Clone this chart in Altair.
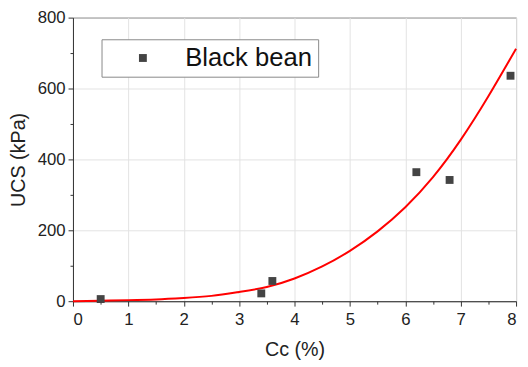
import altair as alt
import pandas as pd

# measured points (Black bean)
pts_x = [0.5, 3.4, 3.6, 6.2, 6.8, 7.9]
pts_y = [6, 22, 57, 364, 342, 636]

# fitted red curve
curve_x = [0, 0.5, 1, 1.5, 2, 2.5, 3, 3.5, 4, 4.5, 5, 5.5, 6, 6.5, 7, 7.5, 8]
curve_y = [0, 1.5, 3, 5, 9, 15, 26, 40, 64, 98, 142, 197, 265, 350, 455, 578, 712]

x_ticks = [0, 1, 2, 3, 4, 5, 6, 7, 8]
x_minor = [0.5, 1.5, 2.5, 3.5, 4.5, 5.5, 6.5, 7.5]
y_ticks = [0, 200, 400, 600, 800]
y_minor = [100, 300, 500, 700]

series_name = "Black bean"

pts = pd.DataFrame({"x": pts_x, "y": pts_y, "s": [series_name] * len(pts_x)})
curve = pd.DataFrame({"x": curve_x, "y": curve_y})

FONT = "Liberation Sans"
xscale = alt.Scale(domain=[0, 8], nice=False, zero=False)
yscale = alt.Scale(domain=[0, 800], nice=False)

x_axis = alt.Axis(values=x_ticks, title="Cc (%)", grid=True, gridColor="#e3e3e3",
                  tickSize=5, labelFontSize=17, titleFontSize=20, labelPadding=6,
                  titlePadding=12, domainColor="#333333", tickColor="#333333",
                  labelColor="#222222", titleColor="#222222", titleFontWeight="normal",
                  labelFont=FONT, titleFont=FONT)
y_axis = alt.Axis(values=y_ticks, title="UCS (kPa)", grid=True, gridColor="#e3e3e3",
                  tickSize=5, labelFontSize=17, titleFontSize=20, labelPadding=3,
                  titlePadding=9, domainColor="#333333", tickColor="#333333",
                  labelColor="#222222", titleColor="#222222", titleFontWeight="normal",
                  labelFont=FONT, titleFont=FONT, orient="left")

line = alt.Chart(curve).mark_line(color="#ff0000", strokeWidth=2, interpolate="natural").encode(
    x=alt.X("x:Q", scale=xscale, axis=x_axis),
    y=alt.Y("y:Q", scale=yscale, axis=y_axis),
)

points = alt.Chart(pts).mark_square(size=64, opacity=1).encode(
    x=alt.X("x:Q", scale=xscale, axis=None),
    y=alt.Y("y:Q", scale=yscale, axis=None),
    color=alt.Color("s:N", scale=alt.Scale(range=["#444444"]),
                    legend=alt.Legend(title=None, orient="none", legendX=29, legendY=22,
                                      labelFontSize=26, labelFont=FONT, labelColor="#111111",
                                      symbolType="square", symbolSize=64, symbolOffset=23,
                                      labelOffset=30, padding=6, strokeColor="#888888",
                                      fillColor="white", symbolStrokeWidth=0)),
)

minor_x = alt.Chart(pd.DataFrame({"x": x_minor})).mark_tick(opacity=0).encode(
    x=alt.X("x:Q", scale=xscale,
            axis=alt.Axis(values=x_minor, labels=False, title=None, grid=False, domain=False,
                          tickSize=3, tickColor="#333333", orient="bottom")),
)
minor_y = alt.Chart(pd.DataFrame({"y": y_minor})).mark_tick(opacity=0).encode(
    y=alt.Y("y:Q", scale=yscale,
            axis=alt.Axis(values=y_minor, labels=False, title=None, grid=False, domain=False,
                          tickSize=3, tickColor="#333333", orient="left")),
)

chart = alt.layer(line, points, minor_x, minor_y).resolve_axis(
    x="independent", y="independent"
).properties(
    width=450, height=288,
    autosize=alt.AutoSizeParams(type="none"),
    padding={"left": 66, "top": 7, "right": 4, "bottom": 60},
).configure_view(stroke="#444444", strokeWidth=1)

chart.save("out.html", embed_options={"renderer": "svg", "actions": False})
